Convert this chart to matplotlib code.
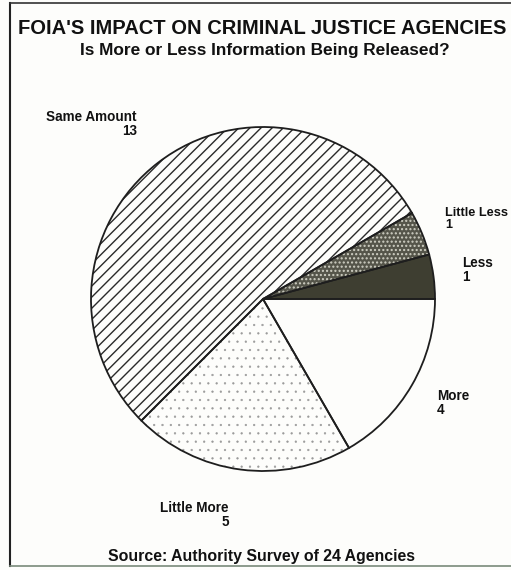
import matplotlib
matplotlib.use("Agg")
import matplotlib.pyplot as plt

# survey answers, 24 agencies
answers = ['Less', 'Little Less', 'Same Amount', 'Little More', 'More']
counts = [1, 1, 13, 5, 4]

title = "FOIA'S IMPACT ON CRIMINAL JUSTICE AGENCIES"
subtitle = "Is More or Less Information Being Released?"
source = "Source: Authority Survey of 24 Agencies"

DPI = 100
W, H = 511, 570


def pt(px):
    # pixel em size -> font points
    return px * 72 / DPI


plt.rcParams['font.family'] = ['Liberation Sans', 'DejaVu Sans']
plt.rcParams['font.weight'] = 'bold'
plt.rcParams['hatch.linewidth'] = 1.0

fig = plt.figure(figsize=(W / DPI, H / DPI), dpi=DPI)
fig.patch.set_facecolor('#fdfdfb')
ax = fig.add_axes([0, 0, 1, 1])

faces = ['#3e3e31', '#55554a', '#fdfdfb', '#fdfdfb', '#fdfdfb']
hatches = [None, '....', '///', '..', None]
hatch_cols = ['#3e3e31', '#d0d0c4', '#2a2a2a', '#9a9a9a', '#fdfdfb']
hatch_lws = [1.0, 1.0, 1.0, 0.4, 1.0]

center = (263, H - 299)
radius = 172

wedges, _ = ax.pie(counts, startangle=0, counterclock=True,
                   center=center, radius=radius, frame=True)
for w, fc, h, hc, hl in zip(wedges, faces, hatches, hatch_cols, hatch_lws):
    w.set_facecolor(fc)
    w.set_edgecolor(hc)
    w.set_linewidth(0)
    if h:
        w.set_hatch(h)
        if hasattr(w, 'set_hatch_linewidth'):
            w.set_hatch_linewidth(hl)

# outlines on top
ax.pie(counts, startangle=0, counterclock=True,
       center=center, radius=radius, frame=True,
       wedgeprops=dict(fill=False, edgecolor='#1e1e1e', linewidth=1.3))
ax.set_xlim(0, W)
ax.set_ylim(0, H)
ax.set_aspect('auto')
ax.axis('off')

# titles
ax.text(262, H - 28, title, ha='center', va='center', fontsize=pt(20.2), color='#111111')
ax.text(265, H - 51, subtitle, ha='center', va='center', fontsize=pt(17.2), color='#111111')
ax.text(261, H - 557, source, ha='center', va='center', fontsize=pt(15.9), color='#111111')

# slice labels
lab = dict(fontsize=pt(13.5), color='#111111', va='center', linespacing=0.95)
ax.text(137, H - 124, f"{answers[2]}\n{counts[2]}", ha='right', multialignment='right', **lab)
ax.text(445, H - 219, f"{answers[1]}\n{counts[1]}", ha='left', multialignment='left',
        **{**lab, 'fontsize': pt(12.8)})
ax.text(462, H - 270, f"{answers[0]}\n{counts[0]}", ha='left', multialignment='left', **lab)
ax.text(437, H - 403, f"{answers[4]}\n{counts[4]}", ha='left', multialignment='left', **lab)
ax.text(229, H - 515, f"{answers[3]}\n{counts[3]}", ha='right', multialignment='right', **lab)

# frame of the scanned box
ax.plot([10, 10], [H - 3, H - 566], color='#222222', lw=1.5)
ax.plot([10, W], [H - 3, H - 3], color='#333333', lw=1.2)
ax.plot([10, W], [H - 566, H - 566], color='#7a8a7a', lw=1.2)

fig.savefig('out.png', dpi=DPI, facecolor=fig.get_facecolor())
